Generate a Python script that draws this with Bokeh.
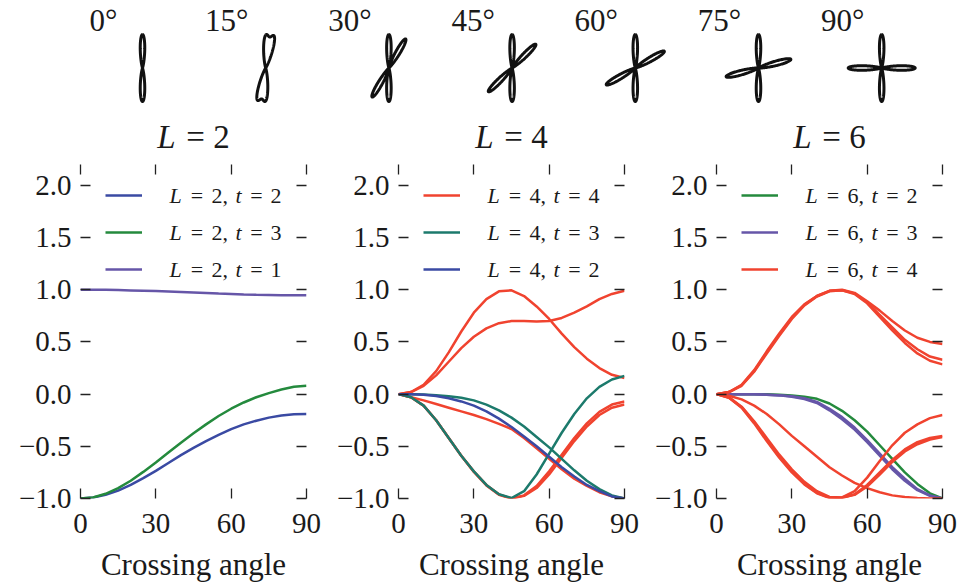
import numpy as np
from bokeh.plotting import figure
from bokeh.models import (FixedTicker, LinearAxis, Range1d, Label, Legend,
                          LegendItem, ColumnDataSource)
from bokeh.layouts import column, row
from bokeh.embed import file_html
from bokeh.resources import INLINE
from bokeh.core.properties import value

# ---------------- data ----------------
angles = [0, 15, 30, 45, 60, 75, 90]
angle_labels = ["0°", "15°", "30°", "45°", "60°", "75°", "90°"]
panel_L = [2, 4, 6]

x_deg = [0, 5, 10, 15, 20, 25, 30, 35, 40, 45, 50, 55, 60, 65, 70, 75, 80, 85, 90]
x_ticks = [0, 30, 60, 90]
x_tick_labels = ["0", "30", "60", "90"]
y_ticks = [-1.0, -0.5, 0.0, 0.5, 1.0, 1.5, 2.0]
y_tick_labels = ["\u22121.0", "\u22120.5", "0.0", "0.5", "1.0", "1.5", "2.0"]
x_label = "Crossing angle"

# L = 2
l2_t2 = [-1.0, -0.99, -0.965, -0.925, -0.87, -0.805, -0.735, -0.66, -0.585, -0.515,
         -0.45, -0.39, -0.335, -0.29, -0.255, -0.225, -0.205, -0.193, -0.19]
l2_t3 = [-1.0, -0.99, -0.955, -0.9, -0.83, -0.745, -0.655, -0.56, -0.465, -0.375,
         -0.29, -0.21, -0.14, -0.08, -0.03, 0.01, 0.045, 0.07, 0.08]
l2_t1 = [1.0, 1.0, 0.999, 0.997, 0.994, 0.991, 0.987, 0.983, 0.978, 0.973,
         0.968, 0.963, 0.959, 0.955, 0.952, 0.95, 0.948, 0.947, 0.947]

# L = 4
l4_t4_a = [0, 0.02, 0.09, 0.22, 0.4, 0.6, 0.78, 0.91, 0.985, 0.995,
           0.94, 0.84, 0.72, 0.58, 0.45, 0.34, 0.25, 0.185, 0.155]
l4_t4_b = [0, 0.02, 0.08, 0.18, 0.31, 0.44, 0.55, 0.63, 0.68, 0.70,
           0.70, 0.695, 0.70, 0.73, 0.78, 0.84, 0.91, 0.96, 0.99]
l4_t4_c = [0, -0.03, -0.11, -0.25, -0.42, -0.59, -0.74, -0.87, -0.96, -1.0,
           -0.97, -0.88, -0.74, -0.58, -0.42, -0.28, -0.17, -0.1, -0.07]
l4_t4_d = [0, -0.03, -0.11, -0.25, -0.42, -0.59, -0.745, -0.875, -0.965, -1.0,
           -0.975, -0.9, -0.77, -0.61, -0.45, -0.31, -0.2, -0.13, -0.1]
l4_t4_e = [0, -0.03, -0.06, -0.095, -0.13, -0.165, -0.2, -0.24, -0.285, -0.335,
           -0.42, -0.52, -0.62, -0.72, -0.81, -0.88, -0.94, -0.98, -1.0]
l4_t3_a = [0, -0.03, -0.11, -0.25, -0.42, -0.59, -0.74, -0.87, -0.96, -0.995,
           -0.93, -0.77, -0.57, -0.37, -0.19, -0.04, 0.07, 0.14, 0.175]
l4_t3_b = [0, 0, -0.003, -0.01, -0.02, -0.035, -0.06, -0.1, -0.155, -0.225,
           -0.31, -0.41, -0.51, -0.62, -0.73, -0.83, -0.91, -0.97, -1.0]
l4_t2 = [0, -0.001, -0.006, -0.018, -0.04, -0.07, -0.11, -0.165, -0.235, -0.315,
         -0.405, -0.5, -0.6, -0.7, -0.79, -0.87, -0.93, -0.98, -1.0]

# L = 6
l6_t2 = [0, 0, 0, 0, -0.002, -0.006, -0.013, -0.025, -0.045, -0.09,
         -0.16, -0.25, -0.36, -0.49, -0.62, -0.75, -0.86, -0.95, -1.0]
l6_t3_a = [0, 0, 0, -0.002, -0.005, -0.01, -0.02, -0.04, -0.075, -0.14,
           -0.22, -0.32, -0.44, -0.57, -0.7, -0.81, -0.91, -0.97, -1.0]
l6_t3_b = [0, 0, 0, -0.002, -0.006, -0.012, -0.025, -0.047, -0.085, -0.155,
           -0.24, -0.34, -0.46, -0.59, -0.72, -0.83, -0.92, -0.975, -1.0]
l6_t4_a = [0, 0.02, 0.09, 0.23, 0.41, 0.58, 0.74, 0.86, 0.94, 0.99,
           1.0, 0.97, 0.89, 0.8, 0.7, 0.61, 0.54, 0.5, 0.48]
l6_t4_b = [0, 0.02, 0.085, 0.22, 0.40, 0.57, 0.73, 0.855, 0.94, 0.99,
           0.995, 0.965, 0.88, 0.76, 0.64, 0.52, 0.43, 0.36, 0.33]
l6_t4_c = [0, 0.02, 0.08, 0.215, 0.39, 0.56, 0.72, 0.85, 0.935, 0.985,
           0.995, 0.96, 0.87, 0.74, 0.61, 0.49, 0.39, 0.32, 0.285]
l6_t4_d = [0, -0.03, -0.12, -0.26, -0.42, -0.58, -0.72, -0.84, -0.93, -0.985,
           -0.99, -0.93, -0.8, -0.64, -0.49, -0.37, -0.29, -0.23, -0.2]
l6_t4_e = [0, -0.035, -0.125, -0.27, -0.44, -0.6, -0.74, -0.86, -0.945, -0.99,
           -0.995, -0.96, -0.87, -0.75, -0.63, -0.53, -0.46, -0.42, -0.4]
l6_t4_f = [0, -0.035, -0.13, -0.28, -0.45, -0.61, -0.75, -0.865, -0.95, -0.995,
           -0.99, -0.965, -0.885, -0.77, -0.65, -0.55, -0.48, -0.435, -0.41]
l6_t4_g = [0, -0.015, -0.05, -0.11, -0.19, -0.29, -0.4, -0.5, -0.6, -0.7,
           -0.78, -0.85, -0.9, -0.94, -0.97, -0.985, -0.995, -1.0, -1.0]

# ---------------- style ----------------
FONT = "Liberation Serif"
TXT = "#1a1a1a"
BLUE = "#3a4aa3"
GREEN = "#248a3d"
PURPLE = "#6656a8"
RED = "#f0432f"
TEAL = "#1c7a6c"

STRIP_W = 962
TOP_H = 160
BORDER_TOP = 4
FRAME_H = 334
BORDER_BOTTOM = 48
PANEL_H = BORDER_TOP + FRAME_H + BORDER_BOTTOM
BOT_H = 37
Y0, Y1 = -1.0, 2.2
FRAME_W = 226
PX_PER_Y = FRAME_H / (Y1 - Y0)
PX_PER_X = FRAME_W / 90.0
PANEL_CX = [193, 511, 829]


def y_below_top(px):
    return Y1 - px / PX_PER_Y


def style_axis(ax, ticks, labels, show):
    ax.ticker = FixedTicker(ticks=ticks)
    ax.axis_line_color = None
    ax.major_tick_in = 10
    ax.major_tick_out = 0
    ax.minor_tick_line_color = None
    ax.major_tick_line_color = "#222222"
    ax.major_tick_line_width = 1.3
    ax.major_label_text_font = FONT
    ax.major_label_text_color = TXT
    if show:
        ax.major_label_overrides = {t: l for t, l in zip(ticks, labels)}
        ax.major_label_text_font_size = "29px"
    else:
        ax.major_label_overrides = {t: "" for t in ticks}
        ax.major_label_text_font_size = "1px"
        ax.major_label_standoff = 0


def add_pieces(p, pieces, x, y, size):
    for txt, italic, off, align in pieces:
        p.add_layout(Label(x=x, y=y, x_units="data", y_units="data", text=txt,
                           x_offset=off, text_font=FONT, text_font_size=size,
                           text_font_style="italic" if italic else "normal",
                           text_color=TXT, text_align=align, text_baseline="middle"))


def make_panel(width, border_left, border_right, curves, entries):
    p = figure(width=width, height=PANEL_H, x_range=Range1d(0, 90), y_range=Range1d(Y0, Y1),
               x_axis_type=None, y_axis_type=None, output_backend="svg",
               toolbar_location=None, min_border_left=border_left,
               min_border_right=border_right, min_border_top=BORDER_TOP,
               min_border_bottom=BORDER_BOTTOM)
    p.outline_line_color = None
    p.background_fill_color = "white"
    p.border_fill_color = "white"

    bx = LinearAxis(); style_axis(bx, x_ticks, x_tick_labels, True)
    bx.major_label_standoff = 15
    p.add_layout(bx, "below")
    tx = LinearAxis(); style_axis(tx, x_ticks, x_tick_labels, False)
    p.add_layout(tx, "above")
    ly = LinearAxis(); style_axis(ly, y_ticks, y_tick_labels, True)
    ly.major_label_standoff = 9
    p.add_layout(ly, "left")
    ry = LinearAxis(); style_axis(ry, y_ticks, y_tick_labels, False)
    p.add_layout(ry, "right")

    first = {}
    for ys, color in curves:
        r = p.line(x_deg, ys, line_color=color, line_width=2.5)
        first.setdefault(color, r)

    items = [LegendItem(label=value(" "), renderers=[first[c]]) for c, _, _ in entries]
    n = len(items)
    leg_h = n * 20 + (n - 1) * 17
    legend = Legend(items=items, location=(25, FRAME_H - leg_h - 21),
                    glyph_width=37, glyph_height=20, label_height=20, label_width=0,
                    spacing=17, padding=0, margin=0, label_standoff=0,
                    border_line_color=None, background_fill_alpha=0,
                    label_text_font_size="10px")
    p.add_layout(legend)

    # legend texts (math style: italic L and t)
    x_txt = 88 / PX_PER_X
    for i, (c, lv, tv) in enumerate(entries):
        yy = y_below_top(31 + 37 * i)
        add_pieces(p, [("L", True, 7, "center"), ("=", False, 28.5, "center"),
                       (f"{lv},", False, 43, "left"), ("t", True, 70, "center"),
                       ("=", False, 88, "center"), (f"{tv}", False, 107.5, "center")],
                   x_txt, yy, "22px")
    return p


def strip(height):
    s = figure(width=STRIP_W, height=height, x_range=Range1d(0, STRIP_W),
               y_range=Range1d(height, 0), x_axis_type=None, y_axis_type=None,
               output_backend="svg", toolbar_location=None, min_border=0)
    s.outline_line_color = None
    s.background_fill_color = "white"
    s.border_fill_color = "white"
    return s


# ---------------- top strip: glyphs, angle labels, panel titles ----------------
top = strip(TOP_H)
GX0, GDX, GY0 = 142.0, 123.2, 67.5
R = 33.5
K = 80
phi = np.linspace(0, 2 * np.pi, 1441)
for i, a in enumerate(angles):
    ar = np.deg2rad(a)
    r = np.abs(np.cos(phi)) ** K + np.abs(np.cos(phi - ar)) ** K
    r = r / r.max()
    top.line(GX0 + GDX * i + R * r * np.sin(phi), GY0 - R * r * np.cos(phi),
             line_color="#111111", line_width=3)

src = ColumnDataSource(dict(x=[GX0 + GDX * i - 39 for i in range(len(angles))],
                            y=[20] * len(angles), t=angle_labels))
top.text(x="x", y="y", text="t", source=src, text_font=value(FONT),
         text_font_size=value("31px"), text_color=TXT, text_align="center",
         text_baseline="middle")

it_src = ColumnDataSource(dict(x=[c - 27 for c in PANEL_CX], y=[136] * 3, t=["L"] * 3))
top.text(x="x", y="y", text="t", source=it_src, text_font=value(FONT),
         text_font_size=value("33px"), text_font_style="italic", text_color=TXT,
         text_align="center", text_baseline="middle")
rm_src = ColumnDataSource(dict(x=[c + 2 for c in PANEL_CX] + [c + 28 for c in PANEL_CX],
                               y=[136] * 6, t=["="] * 3 + [str(L) for L in panel_L]))
top.text(x="x", y="y", text="t", source=rm_src, text_font=value(FONT),
         text_font_size=value("33px"), text_color=TXT,
         text_align="center", text_baseline="middle")

# ---------------- panels ----------------
p1 = make_panel(326, 80, 20, [(l2_t2, BLUE), (l2_t3, GREEN), (l2_t1, PURPLE)],
                [(BLUE, 2, 2), (GREEN, 2, 3), (PURPLE, 2, 1)])
p2 = make_panel(318, 72, 20, [(l4_t4_a, RED), (l4_t4_b, RED), (l4_t4_c, RED), (l4_t4_d, RED),
                              (l4_t4_e, RED), (l4_t3_a, TEAL), (l4_t3_b, TEAL), (l4_t2, BLUE)],
                [(RED, 4, 4), (TEAL, 4, 3), (BLUE, 4, 2)])
p3 = make_panel(318, 72, 20, [(l6_t2, GREEN), (l6_t3_a, PURPLE), (l6_t3_b, PURPLE),
                              (l6_t4_a, RED), (l6_t4_b, RED), (l6_t4_c, RED), (l6_t4_d, RED),
                              (l6_t4_e, RED), (l6_t4_f, RED), (l6_t4_g, RED)],
                [(GREEN, 6, 2), (PURPLE, 6, 3), (RED, 6, 4)])

# ---------------- bottom strip: x-axis labels ----------------
bot = strip(BOT_H)
bsrc = ColumnDataSource(dict(x=PANEL_CX, y=[18] * 3, t=[x_label] * 3))
bot.text(x="x", y="y", text="t", source=bsrc, text_font=value(FONT),
         text_font_size=value("31px"), text_color=TXT, text_align="center",
         text_baseline="middle")

layout = column(top, row(p1, p2, p3, spacing=0), bot, spacing=0)
open("out.html", "w").write(file_html(layout, INLINE))
